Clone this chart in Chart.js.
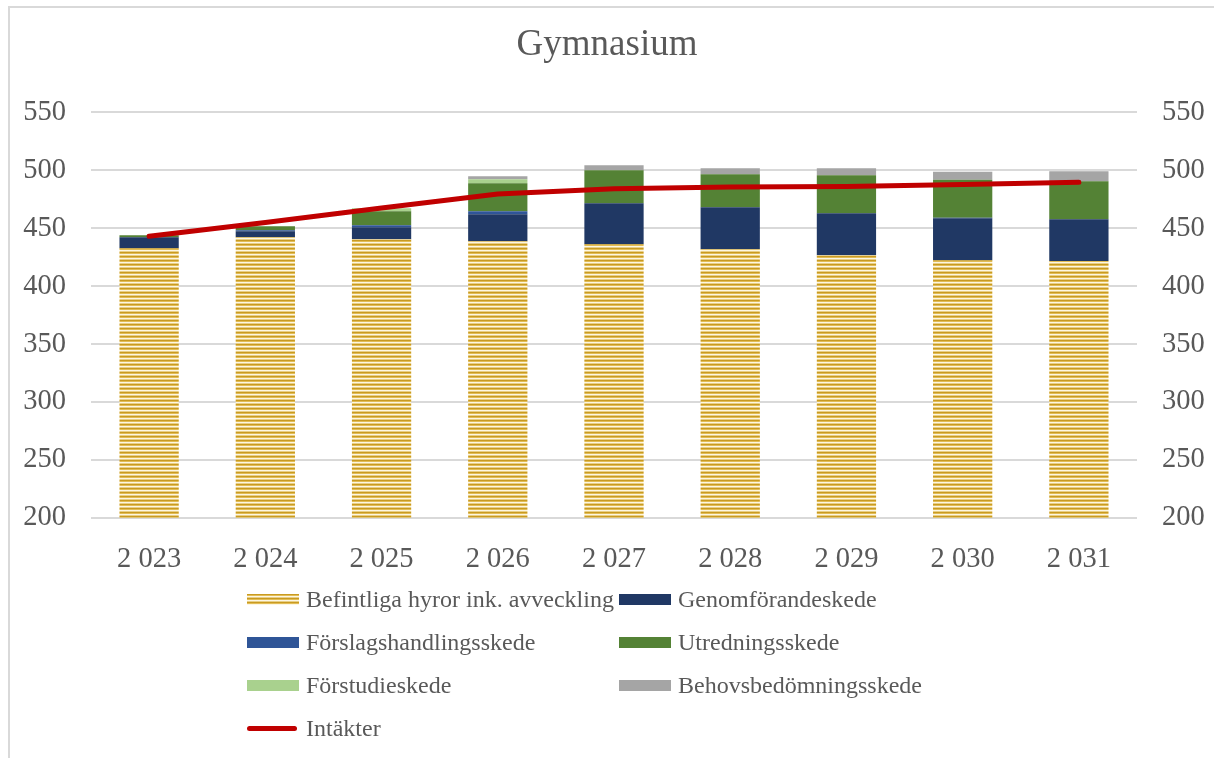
<!DOCTYPE html>
<html lang="sv">
<head>
<meta charset="utf-8">
<title>Gymnasium</title>
<script src="https://cdn.jsdelivr.net/npm/chart.js@4.4.1/dist/chart.umd.min.js"></script>
<style>
    html, body { margin: 0; padding: 0; background: #fff; }
    #wrap { position: relative; width: 1214px; height: 758px; overflow: hidden; }
    #frame {
        position: absolute; left: 8px; top: 6px; width: 1300px; height: 900px;
        border-left: 2px solid #d9d9d9; border-top: 2px solid #d9d9d9;
    }
    #chartBox { position: absolute; left: 0; top: 0; width: 1214px; height: 758px; }
    #legend {
        position: absolute; left: 247px; top: 578px;
        display: grid; grid-template-columns: 372px 300px; grid-auto-rows: 43px;
        font-family: "Liberation Serif", "Times New Roman", serif; font-size: 24px; color: #595959;
    }
    .legend-item { display: flex; align-items: center; white-space: nowrap; }
    .legend-swatch { width: 52px; height: 11px; margin-right: 7px; flex: none; }
    .legend-line { width: 50px; height: 5px; border-radius: 3px; margin-right: 9px; flex: none; }
</style>
</head>
<body>
<div id="wrap">
    <div id="frame"></div>
    <div id="chartBox"><canvas id="chart"></canvas></div>
    <div id="legend"></div>
</div>
<script>
// Values (MSEK-ish, per year)
const years = ['2 023', '2 024', '2 025', '2 026', '2 027', '2 028', '2 029', '2 030', '2 031'];
const befintliga = [432.8, 442.2, 440.5, 438.8, 436.2, 431.9, 426.7, 422.4, 421.6];
const genomforande = [9.4, 5.2, 10.4, 23.3, 35.4, 36.2, 36.2, 36.2, 36.2];
const forslagshandling = [0, 0.8, 1.7, 2.6, 0, 0, 0, 0.5, 0];
const utredning = [1.7, 3.6, 12.1, 24.1, 28.4, 28.5, 32.8, 32.8, 32.7];
const forstudie = [0, 0, 2.5, 3.4, 0, 0, 0, 0, 0];
const behovsbedomning = [0, 0, 0, 2.6, 4.3, 5.1, 6.0, 6.9, 8.6];
const intakter = [443, 455, 467.5, 479.5, 484, 485.5, 486, 487.7, 489.7];
const yTicks = [200, 250, 300, 350, 400, 450, 500, 550];

const TEXT = '#595959';
const GRID = '#d9d9d9';
const SERIF = '"Liberation Serif", "Times New Roman", serif';

// Narrow horizontal stripes, like Excel's gold pattern fill on the existing rents.
const STRIPES = ['#c99a22', '#e2bd55', '#fdf6e2', '#e8cf86'];
function makeStripePattern() {
    const c = document.createElement('canvas');
    c.width = 4; c.height = STRIPES.length;
    const ctx = c.getContext('2d');
    STRIPES.forEach((col, i) => { ctx.fillStyle = col; ctx.fillRect(0, i, 4, 1); });
    return ctx.createPattern(c, 'repeat');
}

function barSet(label, data, color) {
    return {
        type: 'bar', label, data, backgroundColor: color, borderWidth: 0,
        stack: 'bars', order: 1, categoryPercentage: 1, barPercentage: 0.51
    };
}

const datasets = [
    barSet('Befintliga hyror ink. avveckling', befintliga, makeStripePattern()),
    barSet('Genomförandeskede', genomforande, '#203864'),
    barSet('Förslagshandlingsskede', forslagshandling, '#2f5597'),
    barSet('Utredningsskede', utredning, '#548235'),
    barSet('Förstudieskede', forstudie, '#a9d18e'),
    barSet('Behovsbedömningsskede', behovsbedomning, '#a5a5a5'),
    {
        type: 'line', label: 'Intäkter', data: intakter, stack: 'line', order: 0,
        borderColor: '#c00000', borderWidth: 5, borderCapStyle: 'round', borderJoinStyle: 'round',
        pointRadius: 0, tension: 0, fill: false
    }
];

const tickFont = { family: SERIF, size: 28.5 };
const yScale = (position, width) => ({
    position, min: yTicks[0], max: yTicks[yTicks.length - 1], stacked: true,
    afterBuildTicks: s => { s.ticks = yTicks.map(v => ({ value: v })); },
    afterFit: s => { s.width = width; },
    ticks: { font: tickFont, color: TEXT, padding: 25 },
    grid: { display: position === 'left', color: GRID, lineWidth: 2, drawTicks: false },
    border: { display: false }
});

const chart = new Chart(document.getElementById('chart'), {
    data: { labels: years, datasets },
    options: {
        responsive: true, maintainAspectRatio: false, animation: false,
        layout: { padding: { left: 0, right: 0, top: 0, bottom: 156 } },
        plugins: {
            legend: { display: false },
            tooltip: { enabled: false },
            title: {
                display: true, text: 'Gymnasium', color: TEXT,
                font: { family: SERIF, size: 37, weight: 'normal', lineHeight: 1.2 },
                padding: { top: 23, bottom: 45 }
            }
        },
        scales: {
            x: {
                stacked: true,
                ticks: { font: tickFont, color: TEXT, padding: 25, maxRotation: 0 },
                grid: { display: false, drawTicks: false },
                border: { display: false }
            },
            y: yScale('left', 91),
            y2: yScale('right', 77)
        }
    }
});

// Two-column legend in HTML, built from the chart's own datasets.
const legendEl = document.getElementById('legend');
chart.data.datasets.forEach(ds => {
    const item = document.createElement('div');
    item.className = 'legend-item';
    const sw = document.createElement('span');
    if (ds.type === 'line') {
        sw.className = 'legend-line';
        sw.style.background = ds.borderColor;
    } else {
        sw.className = 'legend-swatch';
        if (typeof ds.backgroundColor === 'string') {
            sw.style.background = ds.backgroundColor;
        } else {
            sw.style.background = 'repeating-linear-gradient(to bottom, ' +
                STRIPES.map((c, i) => `${c} ${i}px, ${c} ${i + 1}px`).join(', ') + ')';
        }
    }
    const txt = document.createElement('span');
    txt.textContent = ds.label;
    item.appendChild(sw);
    item.appendChild(txt);
    legendEl.appendChild(item);
});
</script>
</body>
</html>
